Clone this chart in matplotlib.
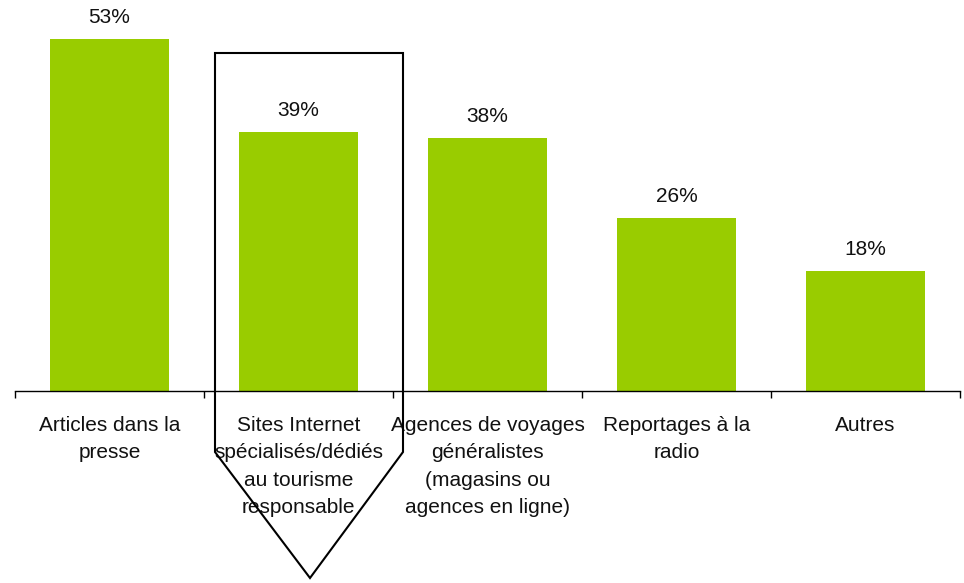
import matplotlib.pyplot as plt
from matplotlib.patches import Polygon

categories = ['Articles dans la\npresse',
              'Sites Internet\nspécialisés/dédiés\nau tourisme\nresponsable',
              'Agences de voyages\ngénéralistes\n(magasins ou\nagences en ligne)',
              'Reportages à la\nradio',
              'Autres']
values = [53, 39, 38, 26, 18]

plt.rcParams['font.family'] = ['Liberation Sans', 'DejaVu Sans']

fig = plt.figure(figsize=(9.64, 5.83), dpi=100)
W, H = 964, 583
ax = fig.add_axes([15 / W, (H - 391) / H, 945 / W, 391 / H])

x = list(range(len(categories)))
ax.bar(x, values, width=0.625, color='#99cc00')
for xi, v in zip(x, values):
    ax.text(xi, v + 1.8, f'{v}%', ha='center', va='bottom', fontsize=15, color='#111111')

ax.set_xlim(-0.5, len(categories) - 0.5)
ax.set_ylim(0, 58.8)
for s in ['top', 'right', 'left']:
    ax.spines[s].set_visible(False)
ax.spines['bottom'].set_linewidth(1.0)
ax.set_yticks([])
ax.set_xticks(x)
ax.set_xticklabels(categories, fontsize=15, linespacing=1.55, color='#111111')
ax.tick_params(axis='x', which='major', length=0, pad=18)
ax.set_xticks([i - 0.5 for i in range(len(categories) + 1)], minor=True)
ax.tick_params(axis='x', which='minor', length=5, width=1, direction='out')

# callout arrow around the second category
pts = [(215, 53), (403, 53), (403, 452), (310, 578), (215, 452)]
arrow = Polygon([(px / W, 1 - py / H) for px, py in pts], closed=True,
                fill=False, edgecolor='black', linewidth=1.5,
                transform=fig.transFigure, clip_on=False)
fig.patches.append(arrow)

fig.savefig('out.png', dpi=100)
